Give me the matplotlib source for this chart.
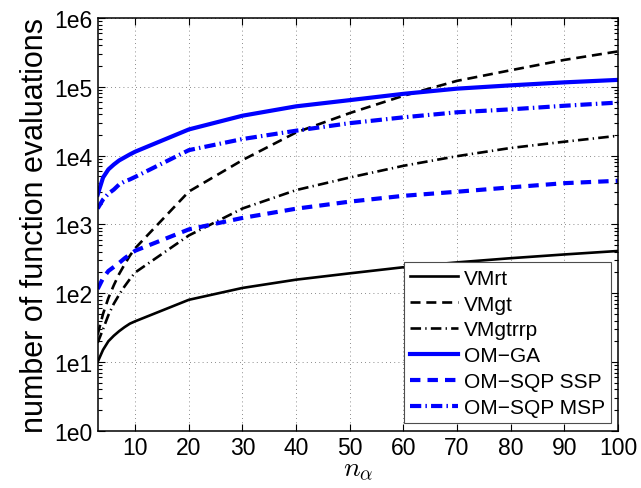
import matplotlib
matplotlib.use('Agg')
from matplotlib import pyplot as plt
from matplotlib.ticker import LogLocator, NullFormatter

plt.rcParams['font.family'] = ['Liberation Sans', 'DejaVu Sans']
plt.rcParams['mathtext.fontset'] = 'cm'

n = [3, 4, 5, 6, 7, 8, 9, 10, 20, 30, 40, 50, 60, 70, 80, 90, 100]

vmrt = [10, 15, 20, 24, 28, 32, 36, 39, 80, 119, 157, 194, 238, 280, 322, 365, 410]
vmgt = [25, 50, 85, 130, 190, 260, 350, 450, 3000, 8600, 21700, 41500, 74000, 122000, 174000, 246000, 327000]
vmgtrrp = [19, 30, 48, 70, 95, 125, 160, 200, 690, 1700, 3150, 4800, 7100, 9800, 12900, 15900, 19400]
om_ga = [2700, 4800, 6300, 7400, 8500, 9400, 10400, 11400, 24000, 38000, 52000, 64000, 79000, 94000, 105000, 116000, 126000]
om_ssp = [115, 165, 210, 240, 275, 320, 365, 414, 845, 1240, 1690, 2140, 2600, 2980, 3450, 3970, 4300]
om_msp = [1700, 2300, 2800, 3200, 3800, 4200, 4500, 4900, 12000, 17400, 23000, 29600, 36000, 42600, 47000, 53000, 59000]

ytick_vals = [1, 10, 100, 1000, 10000, 100000, 1000000]
ytick_labels = ['1e0', '1e1', '1e2', '1e3', '1e4', '1e5', '1e6']
xtick_vals = [10, 20, 30, 40, 50, 60, 70, 80, 90, 100]

fig = plt.figure(figsize=(6.41, 4.89), dpi=100)
ax = fig.add_axes([0.1524, 0.1172, 0.8116, 0.8439])

ax.plot(n, vmrt, color='k', lw=1.9, label='VMrt')
ax.plot(n, vmgt, color='k', lw=1.9, dashes=(3.8, 2.2), label='VMgt')
ax.plot(n, vmgtrrp, color='k', lw=1.9, dashes=(4.0, 1.6, 0.5, 1.6), label='VMgtrrp')
ax.plot(n, om_ga, color='b', lw=3.0, label='OM\u2212GA')
ax.plot(n, om_ssp, color='b', lw=3.0, dashes=(2.5, 1.7), label='OM\u2212SQP SSP')
ax.plot(n, om_msp, color='b', lw=3.0, dashes=(2.7, 1.0, 0.35, 1.0), label='OM\u2212SQP MSP')

ax.set_yscale('log')
ax.set_xlim(3, 100)
ax.set_ylim(1, 1e6)
ax.set_xticks(xtick_vals)
ax.set_yticks(ytick_vals)
ax.set_yticklabels(ytick_labels)
ax.yaxis.set_minor_locator(LogLocator(base=10, subs=range(2, 10), numticks=20))
ax.yaxis.set_minor_formatter(NullFormatter())

ax.tick_params(axis='both', which='both', direction='in', top=True, right=True,
               labelsize=16.5, width=0.8)
ax.tick_params(which='major', length=5)
ax.tick_params(which='minor', length=3)
for s in ax.spines.values():
    s.set_linewidth(1.1)

ax.grid(True, which='major', linestyle=(0, (1, 4)), color='0.4', lw=0.6)

ax.set_xlabel(r'$n_\alpha$', fontsize=20, labelpad=-2)
ax.set_ylabel('number of function evaluations', fontsize=22, labelpad=3)

leg = ax.legend(loc='lower right', bbox_to_anchor=(0.9865, 0.018), fontsize=15,
                fancybox=False, framealpha=1, edgecolor='0.3', borderpad=0.3,
                labelspacing=0.33, handlelength=2.3, handletextpad=0.25,
                borderaxespad=0)
leg.get_frame().set_linewidth(0.8)

fig.savefig('out.png', dpi=100)
